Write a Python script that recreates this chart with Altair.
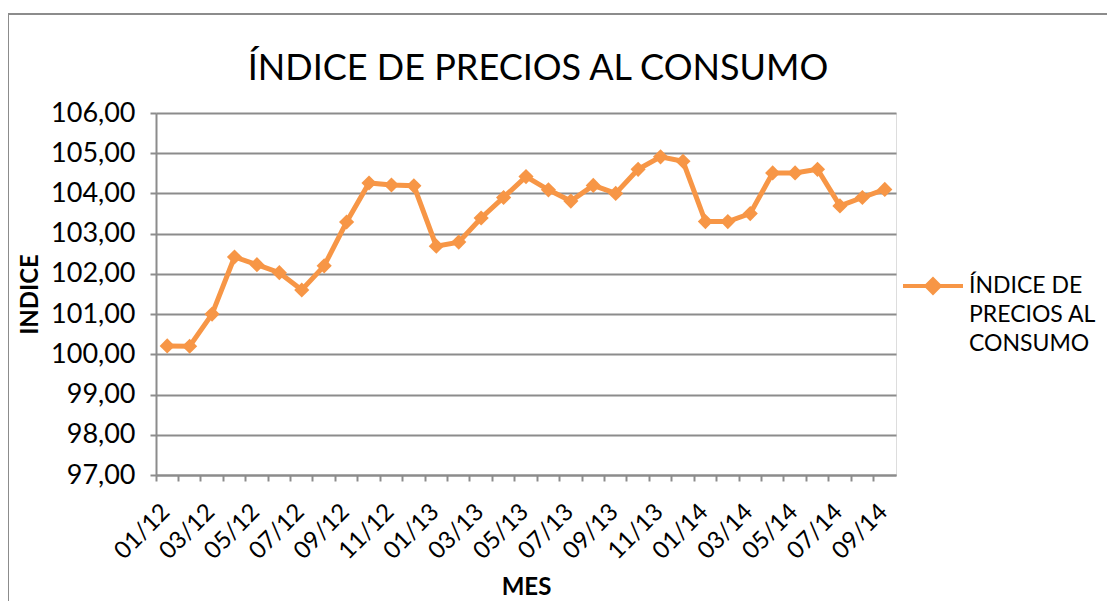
import altair as alt
import pandas as pd

meses = ["01/12","02/12","03/12","04/12","05/12","06/12","07/12","08/12","09/12","10/12","11/12","12/12",
         "01/13","02/13","03/13","04/13","05/13","06/13","07/13","08/13","09/13","10/13","11/13","12/13",
         "01/14","02/14","03/14","04/14","05/14","06/14","07/14","08/14","09/14"]
indice = [100.21,100.20,101.00,102.42,102.23,102.03,101.60,102.20,103.29,104.26,104.21,104.19,
          102.69,102.79,103.39,103.90,104.42,104.09,103.81,104.20,104.00,104.60,104.91,104.80,
          103.30,103.30,103.50,104.51,104.51,104.60,103.69,103.90,104.10]
serie = "ÍNDICE DE PRECIOS AL CONSUMO"
y_ticks = [97,98,99,100,101,102,103,104,105,106]
etiquetas_x = meses[::2]

df = pd.DataFrame({"mes": meses, "indice": indice, "serie": serie})

FONT = "Lato"
ORANGE = "#F79646"
GRID = "#8C8C8C"

xscale = alt.Scale(type="band", domain=meses, paddingInner=0, paddingOuter=0)
lista = "[" + ",".join("'%s'" % m for m in etiquetas_x) + "]"
x_label_expr = "indexof(%s, datum.value) >= 0 ? datum.label : ''" % lista

legend_path = "M-1,0L1,0M-0.22,0L0,-0.22L0.22,0L0,0.22Z"

line = alt.Chart(df).mark_line(strokeWidth=5, point=alt.OverlayMarkDef(shape="diamond", size=230, filled=True, color=ORANGE, opacity=1)).encode(
    x=alt.X("mes:N", scale=xscale, sort=meses,
            axis=alt.Axis(bandPosition=0, labelOffset=-1, labelExpr=x_label_expr,
                          labelAngle=-45, labelAlign="right", labelBaseline="middle", labelOverlap=False,
                          labelFontSize=24, labelFont=FONT, labelColor="#000", labelPadding=27,
                          ticks=True, tickSize=6, tickColor=GRID, tickWidth=2,
                          domain=True, domainColor=GRID, domainWidth=2,
                          title="MES", titleFont=FONT, titleFontSize=24, titleFontWeight="bold",
                          titleColor="#000", titlePadding=12, grid=False)),
    y=alt.Y("indice:Q", scale=alt.Scale(domain=[97,106], nice=False, zero=False),
            axis=alt.Axis(values=y_ticks, labelExpr="replace(format(datum.value, '.2f'), '.', ',')",
                          labelFontSize=27, labelFont=FONT, labelColor="#000", labelPadding=15,
                          tickSize=6, tickColor=GRID, tickWidth=2, domainColor=GRID, domainWidth=2,
                          grid=True, gridColor=GRID, gridWidth=2,
                          title="INDICE", titleFont=FONT, titleFontSize=24, titleFontWeight="bold",
                          titleColor="#000", titlePadding=8)),
    color=alt.Color("serie:N", scale=alt.Scale(range=[ORANGE]),
                    legend=alt.Legend(title=None, orient="none", legendX=745, legendY=141,
                                      symbolType=legend_path, symbolSize=3600, symbolStrokeWidth=4,
                                      symbolFillColor=ORANGE, symbolStrokeColor=ORANGE,
                                      labelFont=FONT, labelFontSize=23, labelColor="#000",
                                      labelExpr="[slice(datum.label,0,9), slice(datum.label,10,20), slice(datum.label,21)]",
                                      labelLimit=300, labelOffset=4)),
)

border = alt.Chart(pd.DataFrame({"a": [0]})).mark_rect(fill=None, stroke=GRID, strokeWidth=2).encode(
    x=alt.value(-148), x2=alt.value(953), y=alt.value(-99), y2=alt.value(520)
)

chart = alt.layer(border, line).properties(
    width=740, height=362,
    autosize=alt.AutoSizeParams(type="none"),
    padding={"left": 148, "top": 105, "right": 211, "bottom": 126},
    title=alt.Title(serie, font=FONT, fontSize=36, fontWeight="normal", color="#000", anchor="middle",
                    baseline="alphabetic", offset=-103, dx=12),
).configure_view(stroke=None).configure(background="white", style={"guide-label": {"lineHeight": 29}})

chart.save("out.html", embed_options={"renderer": "svg", "actions": False})
